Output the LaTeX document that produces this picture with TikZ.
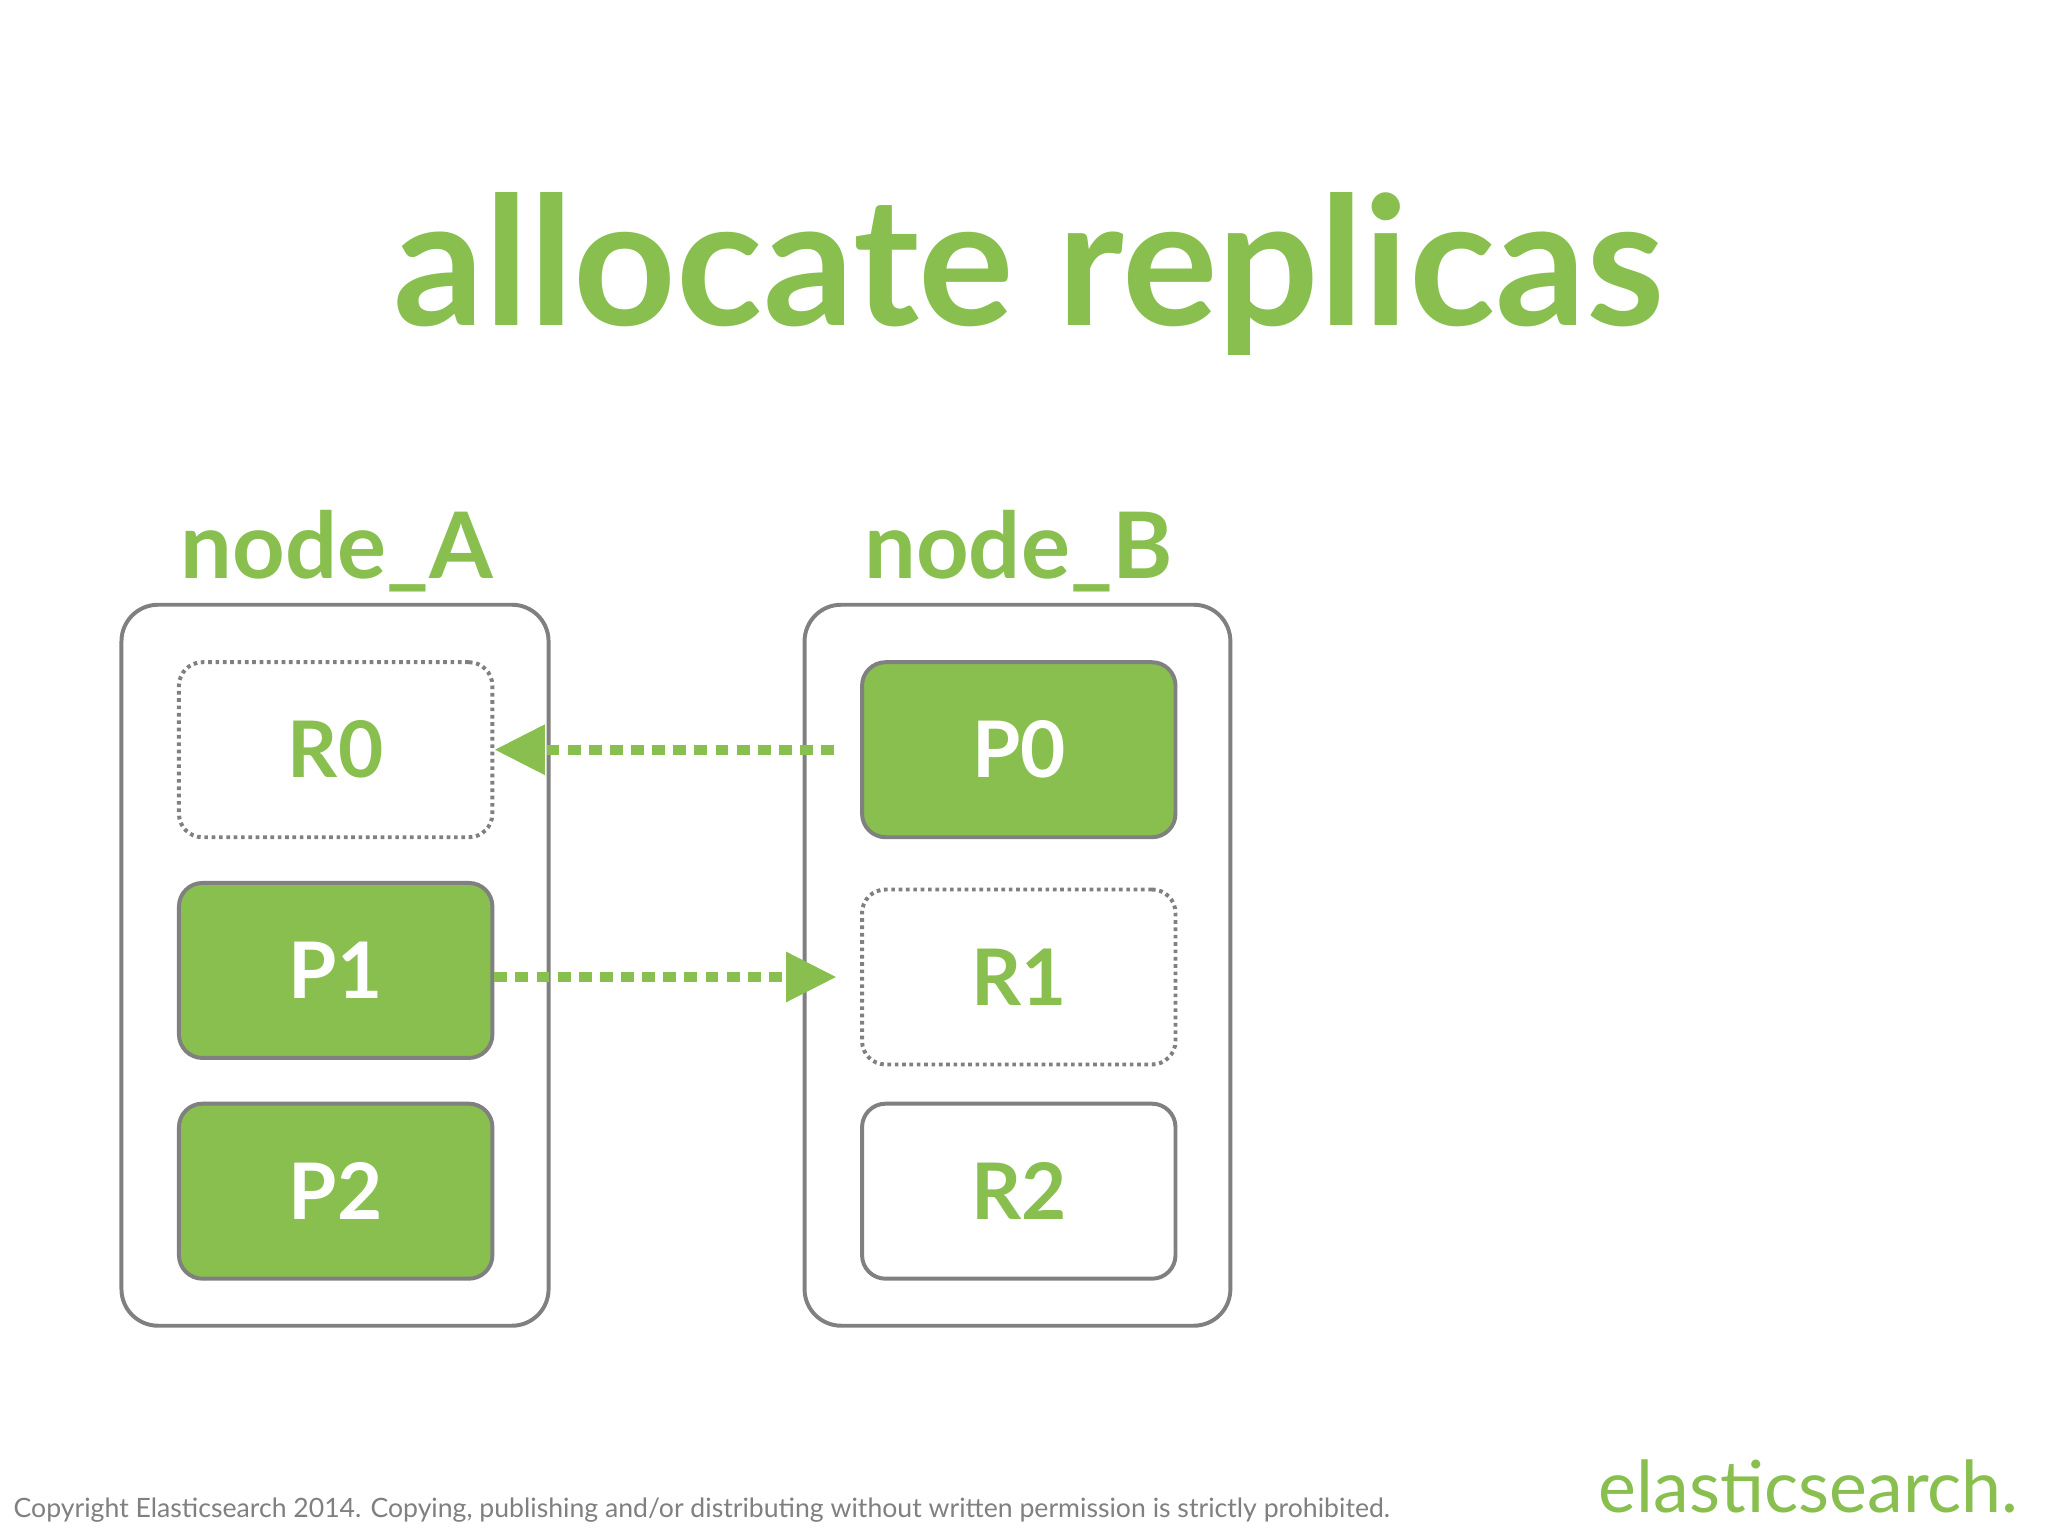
\documentclass[tikz,border=0pt]{standalone}
\usepackage{fontspec}
\setmainfont{Lato}
\usetikzlibrary{arrows.meta}
\definecolor{esgreen}{HTML}{88BF4F}
\definecolor{esgray}{HTML}{808080}
\tikzset{
  px/.style={x=0.05cm,y=-0.05cm},
  container/.style={draw=esgray,line width=4.3pt,rounded corners=1.4cm,fill=white},
  shardbase/.style={minimum width=12cm,minimum height=6.7cm,rounded corners=0.9cm,line width=4.3pt,font=\fontsize{85}{90}\selectfont\bfseries},
  primary/.style={shardbase,draw=esgray,fill=esgreen,text=white},
  replica/.style={shardbase,draw=esgray,fill=white,text=esgreen},
  pending/.style={shardbase,draw=esgray,dash pattern=on 4pt off 4pt,fill=white,text=esgreen},
  moveline/.style={draw=esgreen,line width=11pt,dash pattern=on 14pt off 9pt,-{Triangle[length=55pt,width=52pt,fill=esgreen]}}
}
\begin{document}
\begin{tikzpicture}[px]
\useasboundingbox (0,0) rectangle (1568,1176);
\fill[white] (0,0) rectangle (1568,1176);
\node[text=esgreen,font=\fontsize{195}{200}\selectfont\bfseries] (title) at (788,210) {allocate replicas};
\node[text=esgreen,font=\fontsize{100}{110}\selectfont\bfseries] (labA) at (258,422) {node\_A};
\node[text=esgreen,font=\fontsize{100}{110}\selectfont\bfseries] (labB) at (780,422) {node\_B};
\draw[container] (93,463) rectangle (420,1015);
\draw[container] (616,463) rectangle (942,1015);
\node[pending] (R0) at (257,574) {R0};
\node[primary] (P1) at (257,743) {P1};
\node[primary] (P2) at (257,912) {P2};
\node[primary] (P0) at (780,574) {P0};
\node[pending] (R1) at (780,748) {R1};
\node[replica] (R2) at (780,912) {R2};
\coordinate (a1) at ([xshift=-20*0.05cm]P0.west);
\coordinate (b0) at ([yshift=-5*0.05cm]P1.east);
\coordinate (b1) at ([xshift=-18*0.05cm]R1.west);
\draw[moveline] (a1) -- (R0.east);
\draw[moveline] (b0) -- (b1);
\node[anchor=base west,text=esgray,font=\fontsize{29}{32}\selectfont] (copy) at (8,1162) {Copyright Elasticsearch 2014. Copying, publishing and/or distributing without written permission is strictly prohibited.};
\node[anchor=base east,text=esgreen,font=\fontsize{78}{80}\selectfont] (logo) at (1548,1158) {elasticsearch.};
\end{tikzpicture}
\end{document}
